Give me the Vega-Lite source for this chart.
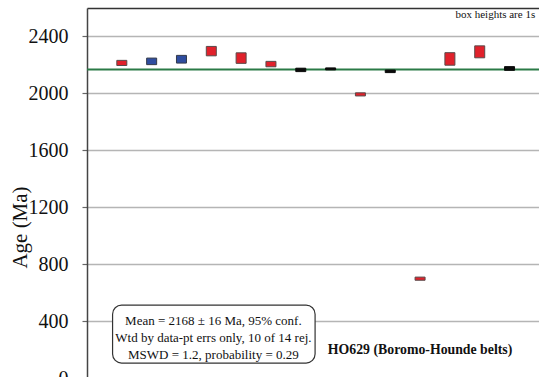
{
  "$schema": "https://vega.github.io/schema/vega-lite/v6.json",
  "width": 452,
  "height": 370,
  "autosize": {"type": "none"},
  "padding": {"left": 87, "top": 8, "right": 0, "bottom": 0},
  "background": "white",
  "config": {
    "view": {"stroke": null},
    "font": "Liberation Serif",
    "text": {"font": "Liberation Serif"}
  },
  "datasets": {
    "points": [
      {"n": 1, "age": 2214, "err": 18, "group": "rejected"},
      {"n": 2, "age": 2225, "err": 23, "group": "rejected (blue)"},
      {"n": 3, "age": 2240, "err": 27, "group": "rejected (blue)"},
      {"n": 4, "age": 2297, "err": 33, "group": "rejected"},
      {"n": 5, "age": 2248, "err": 37, "group": "rejected"},
      {"n": 6, "age": 2206, "err": 19, "group": "rejected"},
      {"n": 7, "age": 2165, "err": 12, "group": "accepted"},
      {"n": 8, "age": 2172, "err": 7, "group": "accepted"},
      {"n": 9, "age": 1993, "err": 11, "group": "rejected"},
      {"n": 10, "age": 2155, "err": 9, "group": "accepted"},
      {"n": 11, "age": 698, "err": 11, "group": "rejected"},
      {"n": 12, "age": 2242, "err": 44, "group": "rejected"},
      {"n": 13, "age": 2292, "err": 42, "group": "rejected"},
      {"n": 14, "age": 2175, "err": 13, "group": "accepted"}
    ],
    "mean": [
      {"mean": 2168}
    ],
    "stats": [
      {"x": 4.07, "y": 400, "line": "Mean = 2168 ± 16 Ma, 95% conf."},
      {"x": 4.07, "y": 281, "line": "Wtd by data-pt errs only, 10 of 14 rej."},
      {"x": 4.07, "y": 161, "line": "MSWD = 1.2, probability = 0.29"}
    ],
    "statsBox": [
      {"x": 0.69, "x2": 7.48, "y": 105, "y2": 512}
    ]
  },
  "layer": [
    {
      "data": {"name": "mean"},
      "mark": {"type": "rule", "color": "#2b7a47", "strokeWidth": 2.2},
      "encoding": {
        "y": {
          "field": "mean",
          "type": "quantitative",
          "scale": {"domain": [0, 2600], "nice": false, "zero": false},
          "axis": {
            "values": [0, 200, 400, 600, 800, 1000, 1200, 1400, 1600, 1800, 2000, 2200, 2400, 2600],
            "format": "d",
            "labelExpr": "datum.value % 400 === 0 ? datum.label : ''",
            "labelFont": "Liberation Serif",
            "labelFontSize": 20,
            "labelColor": "#111",
            "labelPadding": 14,
            "tickSize": 5,
            "tickColor": "#666",
            "tickWidth": 1.2,
            "domainColor": "#444",
            "domainWidth": 1.5,
            "grid": true,
            "gridColor": "#b5b5b5",
            "gridWidth": 1.5,
            "gridOpacity": {"condition": {"test": "datum.value % 400 === 0 && datum.value < 2600", "value": 1}, "value": 0},
            "title": "Age (Ma)",
            "titleFont": "Liberation Serif",
            "titleFontSize": 21,
            "titleFontWeight": "normal",
            "titleColor": "#111",
            "titleX": -67,
            "titleY": 219,
            "titleBaseline": "middle",
            "titleAlign": "center",
            "titleAngle": -90
          }
        }
      }
    },
    {
      "data": {"name": "points"},
      "transform": [
        {"calculate": "datum.age - datum.err", "as": "lo"},
        {"calculate": "datum.age + datum.err", "as": "hi"}
      ],
      "mark": {"type": "bar", "width": 10, "strokeWidth": 1},
      "encoding": {
        "x": {
          "field": "n",
          "type": "quantitative",
          "scale": {"domain": [0, 14.82], "nice": false, "zero": false},
          "axis": {
            "orient": "top",
            "labels": false,
            "ticks": false,
            "grid": false,
            "domainColor": "#333",
            "domainWidth": 1.5,
            "title": null
          }
        },
        "y": {"field": "lo", "type": "quantitative"},
        "y2": {"field": "hi"},
        "fill": {
          "field": "group",
          "type": "nominal",
          "scale": {
            "domain": ["rejected", "rejected (blue)", "accepted"],
            "range": ["#e1212b", "#2f4d9f", "#0a0a0a"]
          },
          "legend": null
        },
        "stroke": {
          "field": "group",
          "type": "nominal",
          "scale": {
            "domain": ["rejected", "rejected (blue)", "accepted"],
            "range": ["#5a4a4a", "#333a4a", "#0a0a0a"]
          },
          "legend": null
        }
      }
    },
    {
      "data": {"name": "statsBox"},
      "mark": {"type": "rect", "fill": "white", "stroke": "#333", "strokeWidth": 1.2, "cornerRadius": 9},
      "encoding": {
        "x": {"field": "x", "type": "quantitative"},
        "x2": {"field": "x2"},
        "y": {"field": "y", "type": "quantitative"},
        "y2": {"field": "y2"}
      }
    },
    {
      "data": {"name": "stats"},
      "mark": {"type": "text", "font": "Liberation Serif", "fontSize": 13, "align": "center", "baseline": "middle", "color": "#111"},
      "encoding": {
        "x": {"field": "x", "type": "quantitative"},
        "y": {"field": "y", "type": "quantitative"},
        "text": {"field": "line"}
      }
    },
    {
      "data": {"values": [{"x": 11.0, "y": 196, "label": "HO629 (Boromo-Hounde belts)"}]},
      "mark": {"type": "text", "font": "Liberation Serif", "fontSize": 13.8, "fontWeight": "bold", "align": "center", "baseline": "middle", "color": "#111"},
      "encoding": {
        "x": {"field": "x", "type": "quantitative"},
        "y": {"field": "y", "type": "quantitative"},
        "text": {"field": "label"}
      }
    },
    {
      "data": {"values": [{"x": 14.86, "y": 2554, "label": "box heights are 1s"}]},
      "mark": {"type": "text", "font": "Liberation Serif", "fontSize": 11, "align": "right", "baseline": "middle", "color": "#111"},
      "encoding": {
        "x": {"field": "x", "type": "quantitative"},
        "y": {"field": "y", "type": "quantitative"},
        "text": {"field": "label"}
      }
    }
  ]
}
